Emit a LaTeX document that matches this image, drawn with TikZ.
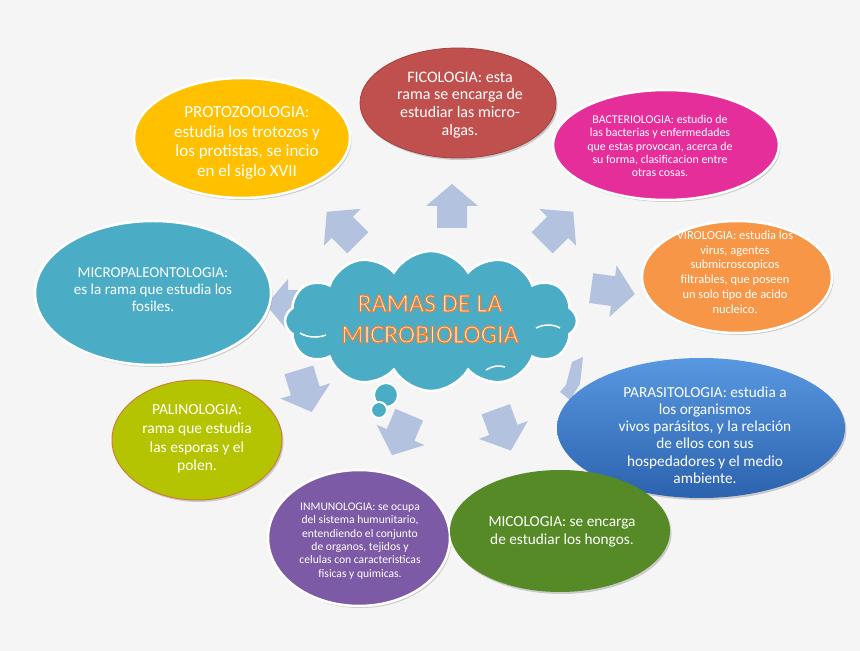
\documentclass[tikz,border=0pt]{standalone}
\usepackage{fontspec}
\setmainfont{Carlito}
\usetikzlibrary{shapes.geometric,shapes.symbols,shadows}
\definecolor{bgc}{HTML}{F5F5F5}
\definecolor{arrowc}{HTML}{B3C3DF}
\definecolor{cloudc}{HTML}{4BACC6}
\definecolor{yellowc}{HTML}{FFC000}
\definecolor{redc}{HTML}{C0504D}
\definecolor{magc}{HTML}{E62E9B}
\definecolor{orangec}{HTML}{F79646}
\definecolor{tealc}{HTML}{4BACC6}
\definecolor{limec}{HTML}{B5C400}
\definecolor{purplec}{HTML}{7D5AA6}
\definecolor{greenc}{HTML}{558A27}
\definecolor{bluetop}{HTML}{5898E0}
\definecolor{bluebot}{HTML}{2C62AE}
\definecolor{titlefill}{HTML}{FFF1E2}
\begin{document}
\begin{tikzpicture}[x=1pt,y=1pt,
  ell/.style={ellipse, inner sep=0pt, draw=white, line width=2.5pt,
    drop shadow={shadow xshift=1.5pt, shadow yshift=-2pt, opacity=0.25, fill=black!70}},
  txt/.style={align=center, text=white, inner sep=0pt},
  titlef/.style={align=center, inner sep=0pt, font=\fontsize{26}{31}\selectfont},
  barrow/.pic={\fill[arrowc] (-21,-15) -- (1,-15) -- (1,-26) -- (23,0) -- (1,26) -- (1,15) -- (-21,15) -- cycle;}
]
\fill[bgc] (0,0) rectangle (860,651);
\useasboundingbox (0,0) rectangle (860,651);

% block arrows
\pic[rotate=90]  at (452,444) {barrow};
\pic[rotate=135] at (343,423) {barrow};
\pic[rotate=45]  at (557,423) {barrow};
\pic[rotate=-8]  at (612,360) {barrow};
\fill[arrowc] (572,289) -- (583,294) -- (580,267) -- (570,251) -- (560,259) -- (566,266) -- cycle;
\pic[rotate=180] at (289,346) {barrow};
\pic[rotate=287] at (305,261) {barrow};
\pic[rotate=247] at (401,217) {barrow};
\pic[rotate=290] at (503,222) {barrow};

% central cloud
\node[cloud, cloud puffs=12, cloud puff arc=120, aspect=2.1, minimum width=292pt, minimum height=140pt,
  fill=cloudc, draw=white, line width=2.5pt, inner sep=0pt] (cloud) at (431,330) {};
\draw[white, line width=1.5pt] (300,318) .. controls (308,313) and (318,313) .. (326,316);
\draw[white, line width=1.5pt] (536,323) .. controls (544,327) and (553,327) .. (560,323);
\draw[white, line width=1.5pt] (486,281) .. controls (492,285) and (499,286) .. (505,284);
\node[circle, fill=cloudc, draw=white, line width=2pt, minimum size=24pt, inner sep=0pt] (b1) at (386,256) {};
\node[circle, fill=cloudc, draw=white, line width=2pt, minimum size=16pt, inner sep=0pt] (b2) at (379,241) {};
\node[titlef, text=titlefill] (title) at (430,332)
  {\special{pdf:literal direct 2 Tr 1.1 w 1 j 0.93 0.50 0.18 RG}RAMAS DE LA\\MICROBIOLOGIA\special{pdf:literal direct 0 Tr}};

% ellipses
\node[ell, fill=yellowc, minimum width=216pt, minimum height=120pt] (proto) at (242,513) {};
\node[ell, fill=redc, draw=redc!85!black, line width=0.8pt, minimum width=196pt, minimum height=110pt] (fico) at (458,548) {};
\node[ell, fill=magc, minimum width=226pt, minimum height=110pt] (bact) at (666,506) {};
\node[ell, fill=orangec, minimum width=190pt, minimum height=112pt] (viro) at (737,374) {};
\node[ell, fill=tealc, minimum width=236pt, minimum height=144pt] (micro) at (153,358) {};
\node[ell, fill=limec, draw=brown!80!orange, line width=1pt, minimum width=170pt, minimum height=120pt] (pali) at (197,211) {};
\node[ell, top color=bluetop, bottom color=bluebot, draw=none, minimum width=288pt, minimum height=140pt] (para) at (701,223) {};
\node[ell, fill=purplec, minimum width=182pt, minimum height=136pt] (inmu) at (359,113) {};
\node[ell, fill=greenc, draw=none, minimum width=220pt, minimum height=122pt] (mico) at (560,120) {};

% texts
\node[txt, font=\fontsize{17}{19.7}\selectfont] (tproto) at (247,508) {PROTOZOOLOGIA:\\estudia los trotozos y\\los protistas, se incio\\en el siglo XVII};
\node[txt, font=\fontsize{16}{17.7}\selectfont] (tfico) at (460,546) {FICOLOGIA: esta\\rama se encarga de\\estudiar las micro-\\algas.};
\node[txt, font=\fontsize{11.9}{13.3}\selectfont] (tbact) at (660,505) {BACTERIOLOGIA: estudio de\\las bacterias y enfermedades\\que estas provocan, acerca de\\su forma, clasificacion entre\\otras cosas.};
\node[txt, font=\fontsize{12.4}{14.7}\selectfont] (tviro) at (735,379) {VIROLOGIA: estudia los\\virus, agentes\\submicroscopicos\\filtrables, que poseen\\un solo tipo de acido\\nucleico.};
\node[txt, font=\fontsize{15.1}{17}\selectfont] (tmicro) at (153,361) {MICROPALEONTOLOGIA:\\es la rama que estudia los\\fosiles.};
\node[txt, font=\fontsize{15.5}{18.7}\selectfont] (tpali) at (197,212) {PALINOLOGIA:\\rama que estudia\\las esporas y el\\polen.};
\node[txt, font=\fontsize{11.6}{13.4}\selectfont] (tinmu) at (360,110) {INMUNOLOGIA: se ocupa\\del sistema humunitario,\\entendiendo el conjunto\\de organos, tejidos y\\celulas con caracteristicas\\fisicas y quimicas.};
\node[txt, font=\fontsize{15.3}{18}\selectfont] (tmico) at (562,119) {MICOLOGIA: se encarga\\de estudiar los hongos.};
\node[txt, font=\fontsize{15.3}{17.2}\selectfont] (tpara) at (705,216) {PARASITOLOGIA: estudia a\\los organismos\\vivos parásitos, y la relación\\de ellos con sus\\hospedadores y el medio\\ambiente.};
\end{tikzpicture}
\end{document}
